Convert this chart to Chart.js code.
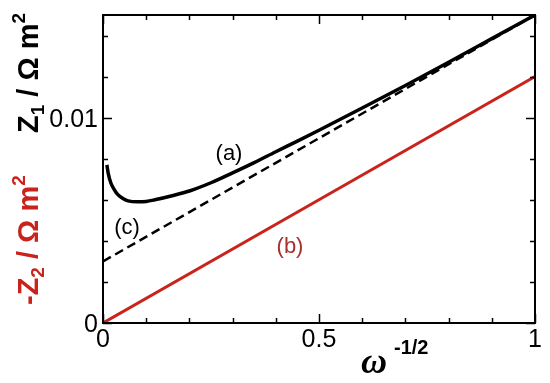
<!DOCTYPE html>
<html>
<head>
<meta charset="utf-8">
<script src="https://cdn.jsdelivr.net/npm/chart.js@4"></script>
<style>
    body { margin: 0; background: #fff; }
    #wrap { width: 550px; height: 383px; }
</style>
</head>
<body>
<div id="wrap"><canvas id="zChart" width="550" height="383"></canvas></div>
<script>

// curve (a): Z1 vs w^-1/2
const xA = [0.009, 0.012, 0.018, 0.026, 0.035, 0.045, 0.058, 0.08, 0.1, 0.12, 0.16, 0.2, 0.25, 0.3, 0.35, 0.4, 0.45, 0.5, 0.6, 0.7, 0.8, 0.9, 1.0];
const yA = [0.0077, 0.0073, 0.00683, 0.0065, 0.00624, 0.00608, 0.00595, 0.0059, 0.00592, 0.006, 0.0062, 0.00643, 0.00683, 0.00731, 0.00781, 0.00834, 0.00886, 0.00939, 0.01047, 0.01157, 0.0127, 0.01385, 0.015];

// line (b): -Z2
const xB = [0, 0.5, 1];
const yB = [0, 0.006, 0.012];

// line (c): dashed asymptote
const xC = [0, 0.5, 1];
const yC = [0.003, 0.009, 0.015];

// ticks
const xTicks = [0, 0.1, 0.2, 0.3, 0.4, 0.5, 0.6, 0.7, 0.8, 0.9, 1];
const xMajor = [0, 0.5, 1];
const xLabels = ["0", "0.5", "1"];
const yTicks = [0, 0.002, 0.004, 0.006, 0.008, 0.01, 0.012, 0.014];
const yMajor = [0, 0.01];
const yLabels = ["0", "0.01"];

const RED = "#c8231c";
const SANS = "'Liberation Sans', Arial, sans-serif";

function pts(xs, ys) {
    return xs.map((x, i) => ({ x: x, y: ys[i] }));
}

// draw text runs along a line (rotated for y titles)
function drawRuns(ctx, x, y, angle, runs, color) {
    ctx.save();
    ctx.translate(x, y);
    ctx.rotate(angle);
    ctx.fillStyle = color;
    ctx.textBaseline = "alphabetic";
    ctx.textAlign = "left";
    let cx = 0;
    runs.forEach(r => {
        ctx.font = "bold " + r.size + "px " + SANS;
        ctx.fillText(r.t, cx, r.dy || 0);
        cx += ctx.measureText(r.t).width;
    });
    ctx.restore();
}

const framePlugin = {
    id: "frame",
    afterDraw(chart) {
        const ctx = chart.ctx;
        const a = chart.chartArea;
        const xs = chart.scales.x;
        const ys = chart.scales.y;

        ctx.save();
        ctx.strokeStyle = "#000";
        ctx.lineWidth = 2;
        ctx.strokeRect(a.left, a.top, a.right - a.left, a.bottom - a.top);

        // inward ticks on all four sides
        ctx.lineWidth = 1.5;
        ctx.beginPath();
        xTicks.forEach(v => {
            const px = Math.round(xs.getPixelForValue(v)) + 0.5;
            const len = xMajor.includes(v) ? 9 : 5;
            ctx.moveTo(px, a.bottom); ctx.lineTo(px, a.bottom - len);
            ctx.moveTo(px, a.top); ctx.lineTo(px, a.top + len);
        });
        yTicks.forEach(v => {
            const py = Math.round(ys.getPixelForValue(v)) + 0.5;
            const len = yMajor.includes(v) ? 9 : 5;
            ctx.moveTo(a.left, py); ctx.lineTo(a.left + len, py);
            ctx.moveTo(a.right, py); ctx.lineTo(a.right - len, py);
        });
        ctx.stroke();

        // tick labels
        ctx.fillStyle = "#000";
        ctx.font = "25px " + SANS;
        ctx.textAlign = "center";
        ctx.textBaseline = "alphabetic";
        xMajor.forEach((v, i) => {
            ctx.fillText(xLabels[i], xs.getPixelForValue(v), a.bottom + 24);
        });
        ctx.textAlign = "right";
        yMajor.forEach((v, i) => {
            ctx.fillText(yLabels[i], a.left - 5, ys.getPixelForValue(v) + 9);
        });

        // x title
        ctx.textAlign = "left";
        ctx.font = "bold italic 36px 'Liberation Serif', serif";
        ctx.fillText("\u03c9", 361, 373);
        ctx.font = "bold 20px " + SANS;
        ctx.fillText("-1/2", 394, 354);

        // y titles
        drawRuns(ctx, 38, 133, -Math.PI / 2, [
            { t: "Z", size: 29 },
            { t: "1", size: 19, dy: 6 },
            { t: " / \u03a9 m", size: 29 },
            { t: "2", size: 19, dy: -13 }
        ], "#000");
        drawRuns(ctx, 38, 305, -Math.PI / 2, [
            { t: "-Z", size: 29 },
            { t: "2", size: 19, dy: 6 },
            { t: " / \u03a9 m", size: 29 },
            { t: "2", size: 19, dy: -13 }
        ], RED);

        // curve labels
        ctx.font = "22px " + SANS;
        ctx.textAlign = "center";
        ctx.textBaseline = "middle";
        ctx.fillStyle = "#000";
        ctx.fillText("(a)", 229, 154);
        ctx.fillText("(c)", 127, 228);
        ctx.fillStyle = "#a8302a";
        ctx.fillText("(b)", 290, 247);

        ctx.restore();
    }
};

const chart = new Chart(document.getElementById("zChart"), {
    type: "scatter",
    data: {
        datasets: [
            {
                label: "(c)",
                data: pts(xC, yC),
                showLine: true,
                borderColor: "#000",
                borderWidth: 2.5,
                borderDash: [9, 5],
                pointRadius: 0
            },
            {
                label: "(b)",
                data: pts(xB, yB),
                showLine: true,
                borderColor: RED,
                borderWidth: 3,
                pointRadius: 0
            },
            {
                label: "(a)",
                data: pts(xA, yA),
                showLine: true,
                borderColor: "#000",
                borderWidth: 3.5,
                cubicInterpolationMode: "monotone",
                pointRadius: 0
            }
        ]
    },
    options: {
        responsive: false,
        animation: false,
        layout: {
            padding: { left: 103, right: 15, top: 15, bottom: 60 }
        },
        plugins: {
            legend: { display: false },
            tooltip: { enabled: false }
        },
        scales: {
            x: { type: "linear", min: 0, max: 1, display: false },
            y: { type: "linear", min: 0, max: 0.015, display: false }
        }
    },
    plugins: [framePlugin]
});

</script>
</body>
</html>
